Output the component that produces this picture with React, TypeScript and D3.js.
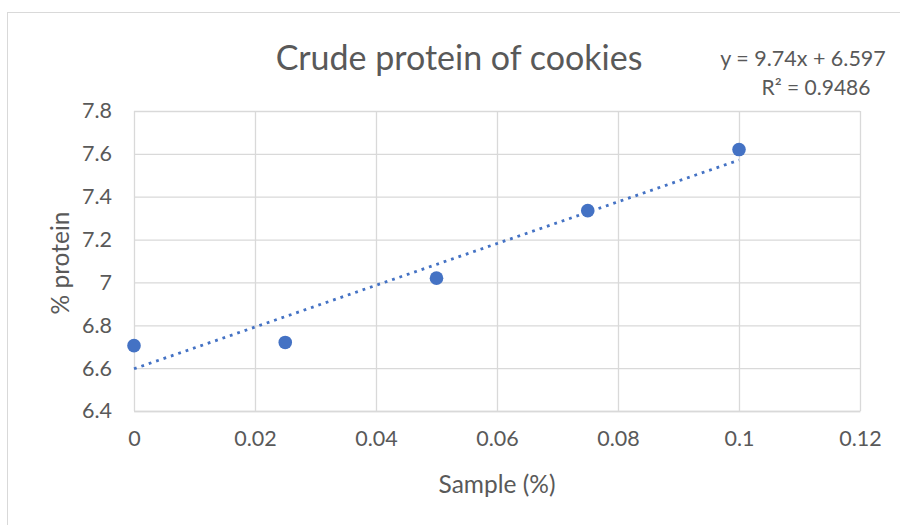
import { useEffect, useRef } from "react";
import * as d3 from "d3";

// Sample (%) vs crude protein (%)
const SAMPLE_PCT = [0, 0.025, 0.05, 0.075, 0.1];
const PROTEIN_PCT = [6.705, 6.72, 7.02, 7.335, 7.62];

// Excel linear trendline, as printed on the chart
const TREND_SLOPE = 9.74;
const TREND_INTERCEPT = 6.597;
const TREND_R2 = 0.9486;

const X_TICKS = [0, 0.02, 0.04, 0.06, 0.08, 0.1, 0.12];
const Y_TICKS = [6.4, 6.6, 6.8, 7, 7.2, 7.4, 7.6, 7.8];

const BLUE = "#4472C4";
const GRID = "#d9d9d9";
const TEXT = "#595959";
const FONT = "Lato, 'Open Sans', sans-serif";

const W = 900;
const H = 525;

export default function App() {
  const svgRef = useRef<SVGSVGElement | null>(null);

  useEffect(() => {
    if (!svgRef.current) return;
    const svg = d3.select(svgRef.current);
    svg.selectAll("*").remove();

    const margin = { top: 111, right: 40, bottom: 114, left: 134 };
    const innerW = W - margin.left - margin.right;
    const innerH = H - margin.top - margin.bottom;

    // chart frame (Excel chart area border, runs off the right/bottom edge)
    svg.append("rect")
      .attr("x", 7.5).attr("y", 12.5)
      .attr("width", W).attr("height", H)
      .attr("fill", "#fff")
      .attr("stroke", "#d9d9d9")
      .attr("stroke-width", 1);

    const x = d3.scaleLinear().domain([0, 0.12]).range([0, innerW]);
    const y = d3.scaleLinear().domain([6.4, 7.8]).range([innerH, 0]);

    const g = svg.append("g")
      .attr("transform", `translate(${margin.left},${margin.top})`);

    // grid
    g.append("g")
      .call(d3.axisLeft(y).tickValues(Y_TICKS).tickSize(-innerW).tickFormat(() => ""))
      .call(ax => {
        ax.select(".domain").remove();
        ax.selectAll("line").attr("stroke", GRID).attr("stroke-width", 1.3);
      });
    g.append("g")
      .call(d3.axisBottom(x).tickValues(X_TICKS).tickSize(innerH).tickFormat(() => ""))
      .call(ax => {
        ax.select(".domain").remove();
        ax.selectAll("line").attr("stroke", GRID).attr("stroke-width", 1.3);
      });

    // y tick labels
    g.append("g")
      .call(d3.axisLeft(y).tickValues(Y_TICKS).tickSize(0).tickPadding(22)
        .tickFormat(d => d3.format("")(+d)))
      .call(ax => {
        ax.select(".domain").remove();
        ax.selectAll("text")
          .attr("fill", TEXT)
          .style("font-size", "21.5px")
          .style("font-family", FONT);
      });

    // x tick labels
    g.append("g")
      .attr("transform", `translate(0,${innerH})`)
      .call(d3.axisBottom(x).tickValues(X_TICKS).tickSize(0).tickPadding(20)
        .tickFormat(d => d3.format("")(+d)))
      .call(ax => {
        ax.select(".domain").attr("stroke", GRID).attr("stroke-width", 1.3);
        ax.selectAll("text")
          .attr("fill", TEXT)
          .style("font-size", "21.5px")
          .style("font-family", FONT);
      });

    // trendline (dotted)
    const [x0, x1] = d3.extent(SAMPLE_PCT) as [number, number];
    g.append("line")
      .attr("x1", x(x0)).attr("y1", y(TREND_SLOPE * x0 + TREND_INTERCEPT))
      .attr("x2", x(x1)).attr("y2", y(TREND_SLOPE * x1 + TREND_INTERCEPT))
      .attr("stroke", BLUE)
      .attr("stroke-width", 2.8)
      .attr("stroke-dasharray", "2.8 5");

    // points
    g.selectAll("circle.pt")
      .data(SAMPLE_PCT.map((s, i) => [s, PROTEIN_PCT[i]]))
      .enter()
      .append("circle")
      .attr("class", "pt")
      .attr("cx", d => x(d[0]))
      .attr("cy", d => y(d[1]))
      .attr("r", 6.8)
      .attr("fill", BLUE);

    // title
    svg.append("text")
      .attr("x", 459).attr("y", 70)
      .attr("text-anchor", "middle")
      .attr("fill", TEXT)
      .style("font-size", "34px")
      .style("font-family", FONT)
      .text("Crude protein of cookies");

    // trendline equation
    svg.append("text")
      .attr("x", 803).attr("y", 66)
      .attr("text-anchor", "middle")
      .attr("fill", TEXT)
      .style("font-size", "21.5px")
      .style("font-family", FONT)
      .text(`y = ${TREND_SLOPE}x + ${TREND_INTERCEPT}`);
    svg.append("text")
      .attr("x", 816).attr("y", 95)
      .attr("text-anchor", "middle")
      .attr("fill", TEXT)
      .style("font-size", "21px")
      .style("font-family", FONT)
      .text(`R² = ${TREND_R2}`);

    // axis titles
    svg.append("text")
      .attr("x", margin.left + innerW / 2).attr("y", 493)
      .attr("text-anchor", "middle")
      .attr("fill", TEXT)
      .style("font-size", "24.5px")
      .style("font-family", FONT)
      .text("Sample (%)");
    svg.append("text")
      .attr("transform", `translate(69,263) rotate(-90)`)
      .attr("text-anchor", "middle")
      .attr("fill", TEXT)
      .style("font-size", "24.5px")
      .style("font-family", FONT)
      .text("% protein");
  }, []);

  return (
    <svg
      ref={svgRef}
      width={W}
      height={H}
      style={{ position: "fixed", left: 0, top: 0, display: "block", background: "#fff" }}
    />
  );
}
